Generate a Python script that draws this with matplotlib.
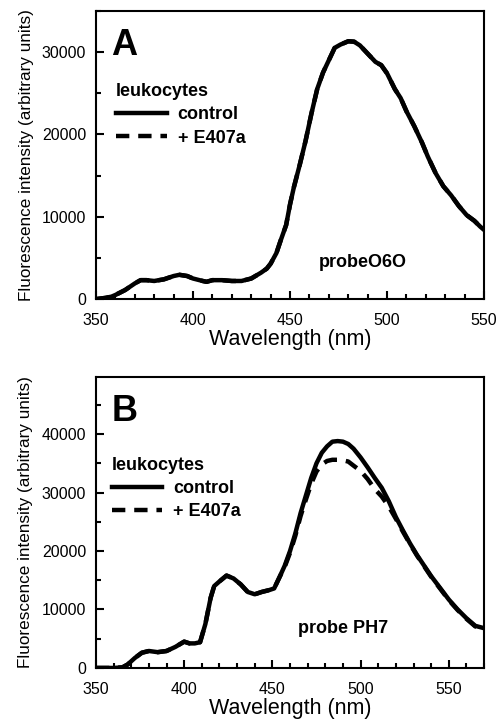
import matplotlib.pyplot as plt
from matplotlib.ticker import MultipleLocator

plt.rcParams['font.family'] = ['Liberation Sans', 'DejaVu Sans']

# Panel A: leukocytes, probe O6O (both curves overlap)
a_wl = [350, 355, 358, 360, 365, 370, 373, 376, 380, 385, 390, 393, 397, 400,
        405, 407, 410, 415, 420, 425, 430, 435, 438, 440, 443, 445, 448, 450,
        452, 455, 458, 461, 464, 467, 470, 473, 476, 480, 483, 486, 490, 494,
        497, 500, 504, 507, 510, 514, 518, 521, 525, 529, 533, 537, 541, 545,
        548, 550]
a_control = [0, 150, 300, 500, 1100, 1900, 2300, 2300, 2200, 2400, 2800, 2950,
             2800, 2500, 2200, 2100, 2300, 2300, 2200, 2200, 2500, 3200, 3700,
             4300, 5600, 7000, 9000, 11500, 13600, 16300, 19200, 22500, 25500,
             27500, 29000, 30500, 30900, 31300, 31250, 30800, 29800, 28800,
             28400, 27400, 25500, 24400, 22800, 21000, 19000, 17300, 15300,
             13700, 12600, 11300, 10200, 9500, 8800, 8400]
a_e407a = list(a_control)

# Panel B: leukocytes, probe PH7
b_wl = [350, 355, 360, 365, 368, 372, 376, 380, 385, 390, 395, 400, 403, 406,
        409, 412, 415, 417, 420, 424, 428, 432, 436, 440, 444, 448, 451, 454,
        457, 460, 463, 466, 469, 472, 475, 478, 481, 484, 487, 490, 493, 496,
        500, 504, 508, 512, 516, 520, 524, 528, 532, 536, 540, 545, 550, 555,
        560, 565, 570]
b_control = [0, 0, 0, 100, 600, 1700, 2600, 2900, 2700, 2900, 3600, 4500, 4200,
             4200, 4400, 7500, 12000, 14000, 14800, 15800, 15300, 14300, 13000,
             12600, 13000, 13300, 13600, 15500, 17500, 20000, 23000, 26500,
             29500, 32500, 35000, 36800, 37900, 38700, 38800, 38700, 38300,
             37500, 36000, 34300, 32500, 30800, 28500, 25800, 23500, 21300,
             19300, 17500, 15700, 13700, 11700, 10000, 8500, 7200, 6800]
b_e407a = [0, 0, 0, 100, 600, 1700, 2600, 2900, 2700, 2900, 3600, 4500, 4200,
           4200, 4400, 7500, 12000, 14000, 14800, 15800, 15300, 14300, 13000,
           12600, 13000, 13300, 13600, 15500, 17300, 19700, 22600, 26000,
           28800, 31500, 33600, 34800, 35400, 35600, 35600, 35500, 35300,
           34600, 33700, 32300, 30600, 29300, 27600, 25500, 23300, 21200,
           19200, 17400, 15600, 13600, 11600, 9900, 8400, 7100, 6700]

panels = [
    dict(ax_rect=[0.1935, 0.584, 0.7825, 0.401], letter='A', wl=a_wl,
         ctrl=a_control, e407=a_e407a, xlim=(350, 550), ylim=(0, 35000),
         probe='probeO6O', probe_xy=(0.575, 0.11), leg_xy=(0.052, 0.75)),
    dict(ax_rect=[0.1935, 0.071, 0.7825, 0.405], letter='B', wl=b_wl,
         ctrl=b_control, e407=b_e407a, xlim=(350, 570), ylim=(0, 49800),
         probe='probe PH7', probe_xy=(0.52, 0.12), leg_xy=(0.04, 0.725)),
]

fig = plt.figure(figsize=(4.96, 7.19), dpi=100)

for p in panels:
    ax = fig.add_axes(p['ax_rect'])
    ax.plot(p['wl'], p['ctrl'], color='black', lw=3.2, label='control')
    ax.plot(p['wl'], p['e407'], color='black', lw=3.2, ls=(0, (3, 2)),
            label='+ E407a')
    ax.set_xlim(*p['xlim'])
    ax.set_ylim(*p['ylim'])
    ax.xaxis.set_major_locator(MultipleLocator(50))
    ax.xaxis.set_minor_locator(MultipleLocator(10))
    ax.yaxis.set_major_locator(MultipleLocator(10000))
    ax.yaxis.set_minor_locator(MultipleLocator(5000))
    ax.tick_params(which='both', direction='in', top=False, right=False,
                   width=1.5, labelsize=11.5, colors='black')
    ax.tick_params(which='major', length=6)
    ax.tick_params(which='minor', length=3.5)
    ax.tick_params(axis='x', which='major', pad=10)
    ax.tick_params(axis='y', which='major', pad=7)
    for s in ax.spines.values():
        s.set_linewidth(1.5)
    ax.set_xlabel('Wavelength (nm)', fontsize=15.5, labelpad=1)
    ax.set_ylabel('Fluorescence intensity (arbitrary units)', fontsize=12.3,
                  labelpad=6)
    ax.text(0.04, 0.88, p['letter'], transform=ax.transAxes, fontsize=26,
            fontweight='bold', va='center', ha='left')
    ax.text(p['probe_xy'][0], p['probe_xy'][1], p['probe'],
            transform=ax.transAxes, fontsize=13, fontweight='bold')
    leg = ax.legend(loc='upper left', bbox_to_anchor=p['leg_xy'],
                    frameon=False, title='leukocytes', fontsize=13,
                    handlelength=2.8, handletextpad=0.6, labelspacing=0.35,
                    borderpad=0, borderaxespad=0,
                    title_fontproperties={'weight': 'bold', 'size': 13})
    leg._legend_box.align = 'left'
    for t in leg.get_texts():
        t.set_fontweight('bold')

fig.savefig('out.png', dpi=100)
